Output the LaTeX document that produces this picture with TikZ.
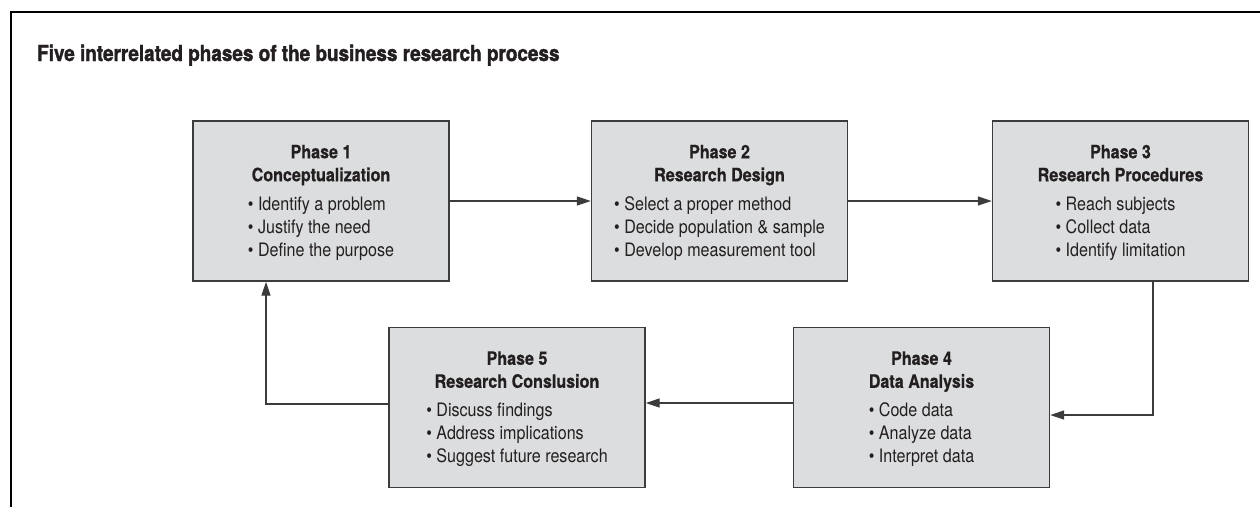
\documentclass[tikz,border=0pt]{standalone}
\usepackage{fontspec}
\setmainfont{TeX Gyre Heros}
\newfontfamily\titlefont{TeX Gyre Heros}[FakeStretch=0.86, BoldFeatures={FakeBold=1.6}]
\newfontfamily\boxfont{TeX Gyre Heros}[FakeStretch=0.87, BoldFeatures={FakeBold=0.5}]
\usetikzlibrary{arrows.meta,calc}
\definecolor{boxfill}{HTML}{DCDDDF}
\definecolor{boxline}{HTML}{3C3C3C}
\definecolor{ink}{HTML}{231F20}
\tikzset{
  phasebox/.style={draw=boxline, line width=1.4pt, fill=boxfill,
    minimum width=256pt, minimum height=160pt, inner sep=0pt},
  headtext/.style={font=\boxfont\bfseries\fontsize{18.5}{23}\selectfont,
    text=ink, inner sep=0pt, anchor=base},
  bultext/.style={font=\boxfont\fontsize{18.5}{23}\selectfont,
    text=ink, inner sep=0pt, anchor=base},
  titletext/.style={font=\titlefont\bfseries\fontsize{22}{26}\selectfont,
    text=ink, inner sep=0pt, anchor=base west},
  conn/.style={draw=boxline, line width=1.3pt,
    -{Triangle[length=14pt,width=9pt]}},
  frameline/.style={draw=black, line width=2.4pt}
}
\begin{document}
\begin{tikzpicture}[x=1pt,y=-1pt]
\useasboundingbox (0,0) rectangle (1260,507);
\draw[frameline] (1260,12) -- (11,12) -- (11,507);
\node[titletext] (title) at (37,61) {Five interrelated phases of the business research process};

\node[phasebox] (p1) at (321,201) {};
\node[phasebox] (p2) at (719.5,201) {};
\node[phasebox] (p3) at (1120.5,201) {};
\node[phasebox] (p4) at (921.5,407.5) {};
\node[phasebox] (p5) at (517,407.5) {};

\node[headtext] (p1h) at ($(p1.north)+(0,38)$) {\begin{tabular}[t]{@{}c@{}}Phase 1\\Conceptualization\end{tabular}};
\node[bultext] (p1b) at ($(p1.north)+(0,90)$) {\begin{tabular}[t]{@{}l@{}}• Identify a problem\\• Justify the need\\• Define the purpose\end{tabular}};

\node[headtext] (p2h) at ($(p2.north)+(0,38)$) {\begin{tabular}[t]{@{}c@{}}Phase 2\\Research Design\end{tabular}};
\node[bultext] (p2b) at ($(p2.north)+(0,90)$) {\begin{tabular}[t]{@{}l@{}}• Select a proper method\\• Decide population \& sample\\• Develop measurement tool\end{tabular}};

\node[headtext] (p3h) at ($(p3.north)+(0,38)$) {\begin{tabular}[t]{@{}c@{}}Phase 3\\Research Procedures\end{tabular}};
\node[bultext] (p3b) at ($(p3.north)+(0,90)$) {\begin{tabular}[t]{@{}l@{}}• Reach subjects\\• Collect data\\• Identify limitation\end{tabular}};

\node[headtext] (p4h) at ($(p4.north)+(0,38)$) {\begin{tabular}[t]{@{}c@{}}Phase 4\\Data Analysis\end{tabular}};
\node[bultext] (p4b) at ($(p4.north)+(0,90)$) {\begin{tabular}[t]{@{}l@{}}• Code data\\• Analyze data\\• Interpret data\end{tabular}};

\node[headtext] (p5h) at ($(p5.north)+(0,38)$) {\begin{tabular}[t]{@{}c@{}}Phase 5\\Research Conslusion\end{tabular}};
\node[bultext] (p5b) at ($(p5.north)+(0,90)$) {\begin{tabular}[t]{@{}l@{}}• Discuss findings\\• Address implications\\• Suggest future research\end{tabular}};

\coordinate (c34) at (1153,415);
\coordinate (c45) at (0,403);
\coordinate (c51) at (266,404);

\draw[conn] (p1) -- (p2);
\draw[conn] (p2) -- (p3);
\draw[conn] (p3.south -| c34) |- (p4.east |- c34);
\draw[conn] (p4.west |- c45) -- (p5.east |- c45);
\draw[conn] (p5.west |- c51) -| (p1.south -| c51);
\end{tikzpicture}
\end{document}
